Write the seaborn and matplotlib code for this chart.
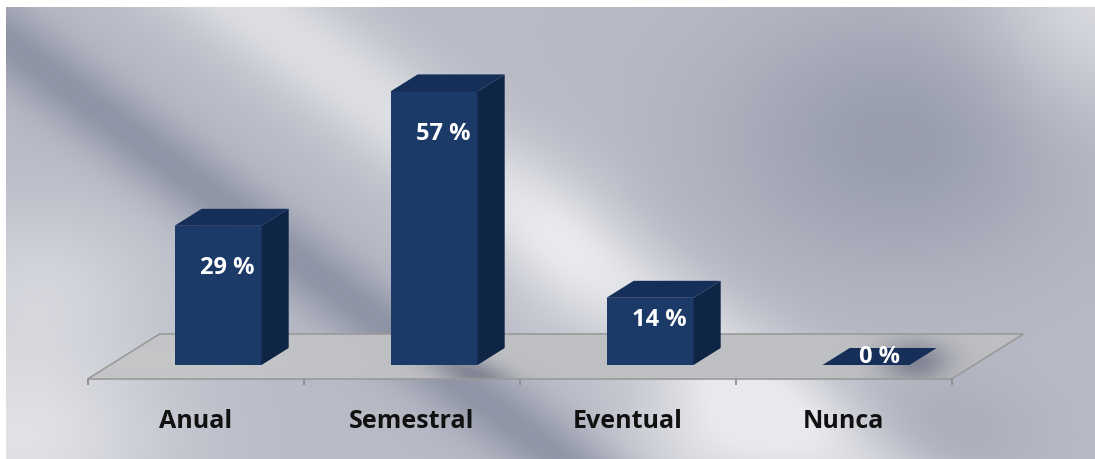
import numpy as np
import pandas as pd
import matplotlib
matplotlib.use("Agg")
import matplotlib.pyplot as plt
from matplotlib.patches import Polygon
import seaborn as sns

# ---- data -------------------------------------------------------------
categories = ["Anual", "Semestral", "Eventual", "Nunca"]
percent = [29, 57, 14, 0]
value_labels = ["29 %", "57 %", "14 %", "0 %"]

# ---- layout (pixel geometry of the oblique 3-D view) -------------------
W, H, DPI = 1095, 460, 100
SLOT = 216.0        # px per category slot
UNIT = 4.8          # px per percentage point
X0_PX = 110.0       # left edge of the first slot on the bar front plane
BASE_PX = 366.0     # baseline row of the bar front faces
SLANT = 1.6         # horizontal shift per px of depth
BAR_DEPTH = 17      # px
FLOOR_FRONT = -14   # px of depth (negative = towards viewer)
FLOOR_BACK = 31

XMIN = -0.5 - X0_PX / SLOT
XMAX = -0.5 + (W - X0_PX) / SLOT
YMIN = -(H - BASE_PX) / UNIT
YMAX = BASE_PX / UNIT


def depth(d):
    """Offset in data units for d px of depth in the oblique projection."""
    return SLANT * d / SLOT, d / UNIT


FRONT = "#1b3a68"
SIDE = "#0f2546"
TOP = "#152f58"

sns.set_theme(style="white")
plt.rcParams["font.family"] = ["Open Sans", "DejaVu Sans"]

fig = plt.figure(figsize=(W / DPI, H / DPI), dpi=DPI, facecolor="#b9bcc6")
ax = fig.add_axes([0, 0, 1, 1])
ax.set_facecolor("none")

# ---- brushed-metal backdrop --------------------------------------------
yy, xx = np.mgrid[0:H, 0:W].astype(float)


def blob(cx, cy, sx, sy):
    return np.exp(-(((xx - cx) / sx) ** 2 + ((yy - cy) / sy) ** 2))


t = xx - 1.33 * yy
v = np.full((H, W), 0.58)
v += 0.33 * np.exp(-((t - 240) / 90) ** 2)
v -= 0.36 * np.exp(-((t + 50) / 60) ** 2)
v -= 0.28 * blob(900, 140, 180, 130)
v += 0.30 * blob(1095, 0, 110, 120)
v += 0.35 * blob(20, 440, 150, 110)
v += 0.20 * blob(40, 280, 120, 80)
v += 0.32 * blob(720, 440, 100, 70)
v -= 0.15 * blob(930, 440, 100, 60)
v += 0.12 * blob(560, 260, 70, 100)
v = np.clip(v, 0, 1)
dark = np.array([118, 124, 146]) / 255
light = np.array([232, 233, 236]) / 255
bg = dark + v[..., None] * (light - dark)
bg[:8, :, :] = 1.0
bg[:, :6, :] = 1.0
ax.imshow(bg, extent=(XMIN, XMAX, YMIN, YMAX), origin="upper",
          aspect="auto", zorder=0, interpolation="bilinear")

# ---- floor plane -------------------------------------------------------
fx_f, fy_f = depth(FLOOR_FRONT)
fx_b, fy_b = depth(FLOOR_BACK)
left, right = -0.5, len(categories) - 0.5
floor_pts = [(left + fx_f, fy_f), (right + fx_f, fy_f),
             (right + fx_b, fy_b), (left + fx_b, fy_b)]

fv = np.full((H, W), 0.82)
fv -= 0.55 * np.exp(-((t + 25) / 35) ** 2) * np.exp(-((yy - 375) / 22) ** 2)
fv -= 0.55 * blob(915, 362, 35, 22)
fv += 0.06 * blob(150, 360, 200, 40)
fv = np.clip(fv, 0, 1)
fdark = np.array([100, 106, 126]) / 255
flight = np.array([210, 210, 210]) / 255
floor_img = fdark + fv[..., None] * (flight - fdark)
im = ax.imshow(floor_img, extent=(XMIN, XMAX, YMIN, YMAX), origin="upper",
               aspect="auto", zorder=1, interpolation="bilinear")
floor_patch = Polygon(floor_pts, closed=True, facecolor="none",
                      edgecolor="#9a9a9a", lw=1.2, zorder=1.5)
ax.add_patch(floor_patch)
im.set_clip_path(floor_patch)

# slot dividers hanging below the front edge of the floor
tick_len = 6 / UNIT
for i in range(len(categories) + 1):
    xb = i - 0.5 + fx_f
    ax.plot([xb, xb], [fy_f, fy_f - tick_len], color="#8c8c8c", lw=1.3,
            zorder=1.6, solid_capstyle="butt")

# ---- bars --------------------------------------------------------------
df = pd.DataFrame({"categoria": categories, "porcentaje": percent})
sns.barplot(data=df, x="categoria", y="porcentaje", color=FRONT,
            saturation=1, width=87 / SLOT, linewidth=0, ax=ax, zorder=3)

dx, dy = depth(BAR_DEPTH)
for patch, lab, val in zip(ax.containers[0], value_labels, percent):
    x0 = patch.get_x()
    x1 = x0 + patch.get_width()
    h = patch.get_height()
    side = Polygon([(x1, 0), (x1 + dx, dy), (x1 + dx, h + dy), (x1, h)],
                   closed=True, facecolor=SIDE, edgecolor="none", zorder=3)
    top = Polygon([(x0, h), (x1, h), (x1 + dx, h + dy), (x0 + dx, h + dy)],
                  closed=True, facecolor=TOP, edgecolor="none", zorder=3.1)
    ax.add_patch(side)
    ax.add_patch(top)
    xc = (x0 + x1) / 2
    if h > 0:
        ty = max(h - 8.6, h * 0.68)
        tx = xc + dx / 3
    else:
        tx, ty = xc + dx / 2, dy / 2
    ax.text(tx, ty, lab, color="white", fontsize=17, fontweight="bold",
            ha="center", va="center", zorder=4)

# category names under the floor
for i, name in enumerate(categories):
    ax.text(i + fx_f, -11.5, name, color="#111111", fontsize=18,
            fontweight="bold", ha="center", va="center", zorder=4)

ax.set_xlim(XMIN, XMAX)
ax.set_ylim(YMIN, YMAX)
ax.set_xlabel("")
ax.set_ylabel("")
ax.set_xticks([])
ax.set_yticks([])
for s in ax.spines.values():
    s.set_visible(False)

fig.savefig("out.png", dpi=DPI, facecolor=fig.get_facecolor())
